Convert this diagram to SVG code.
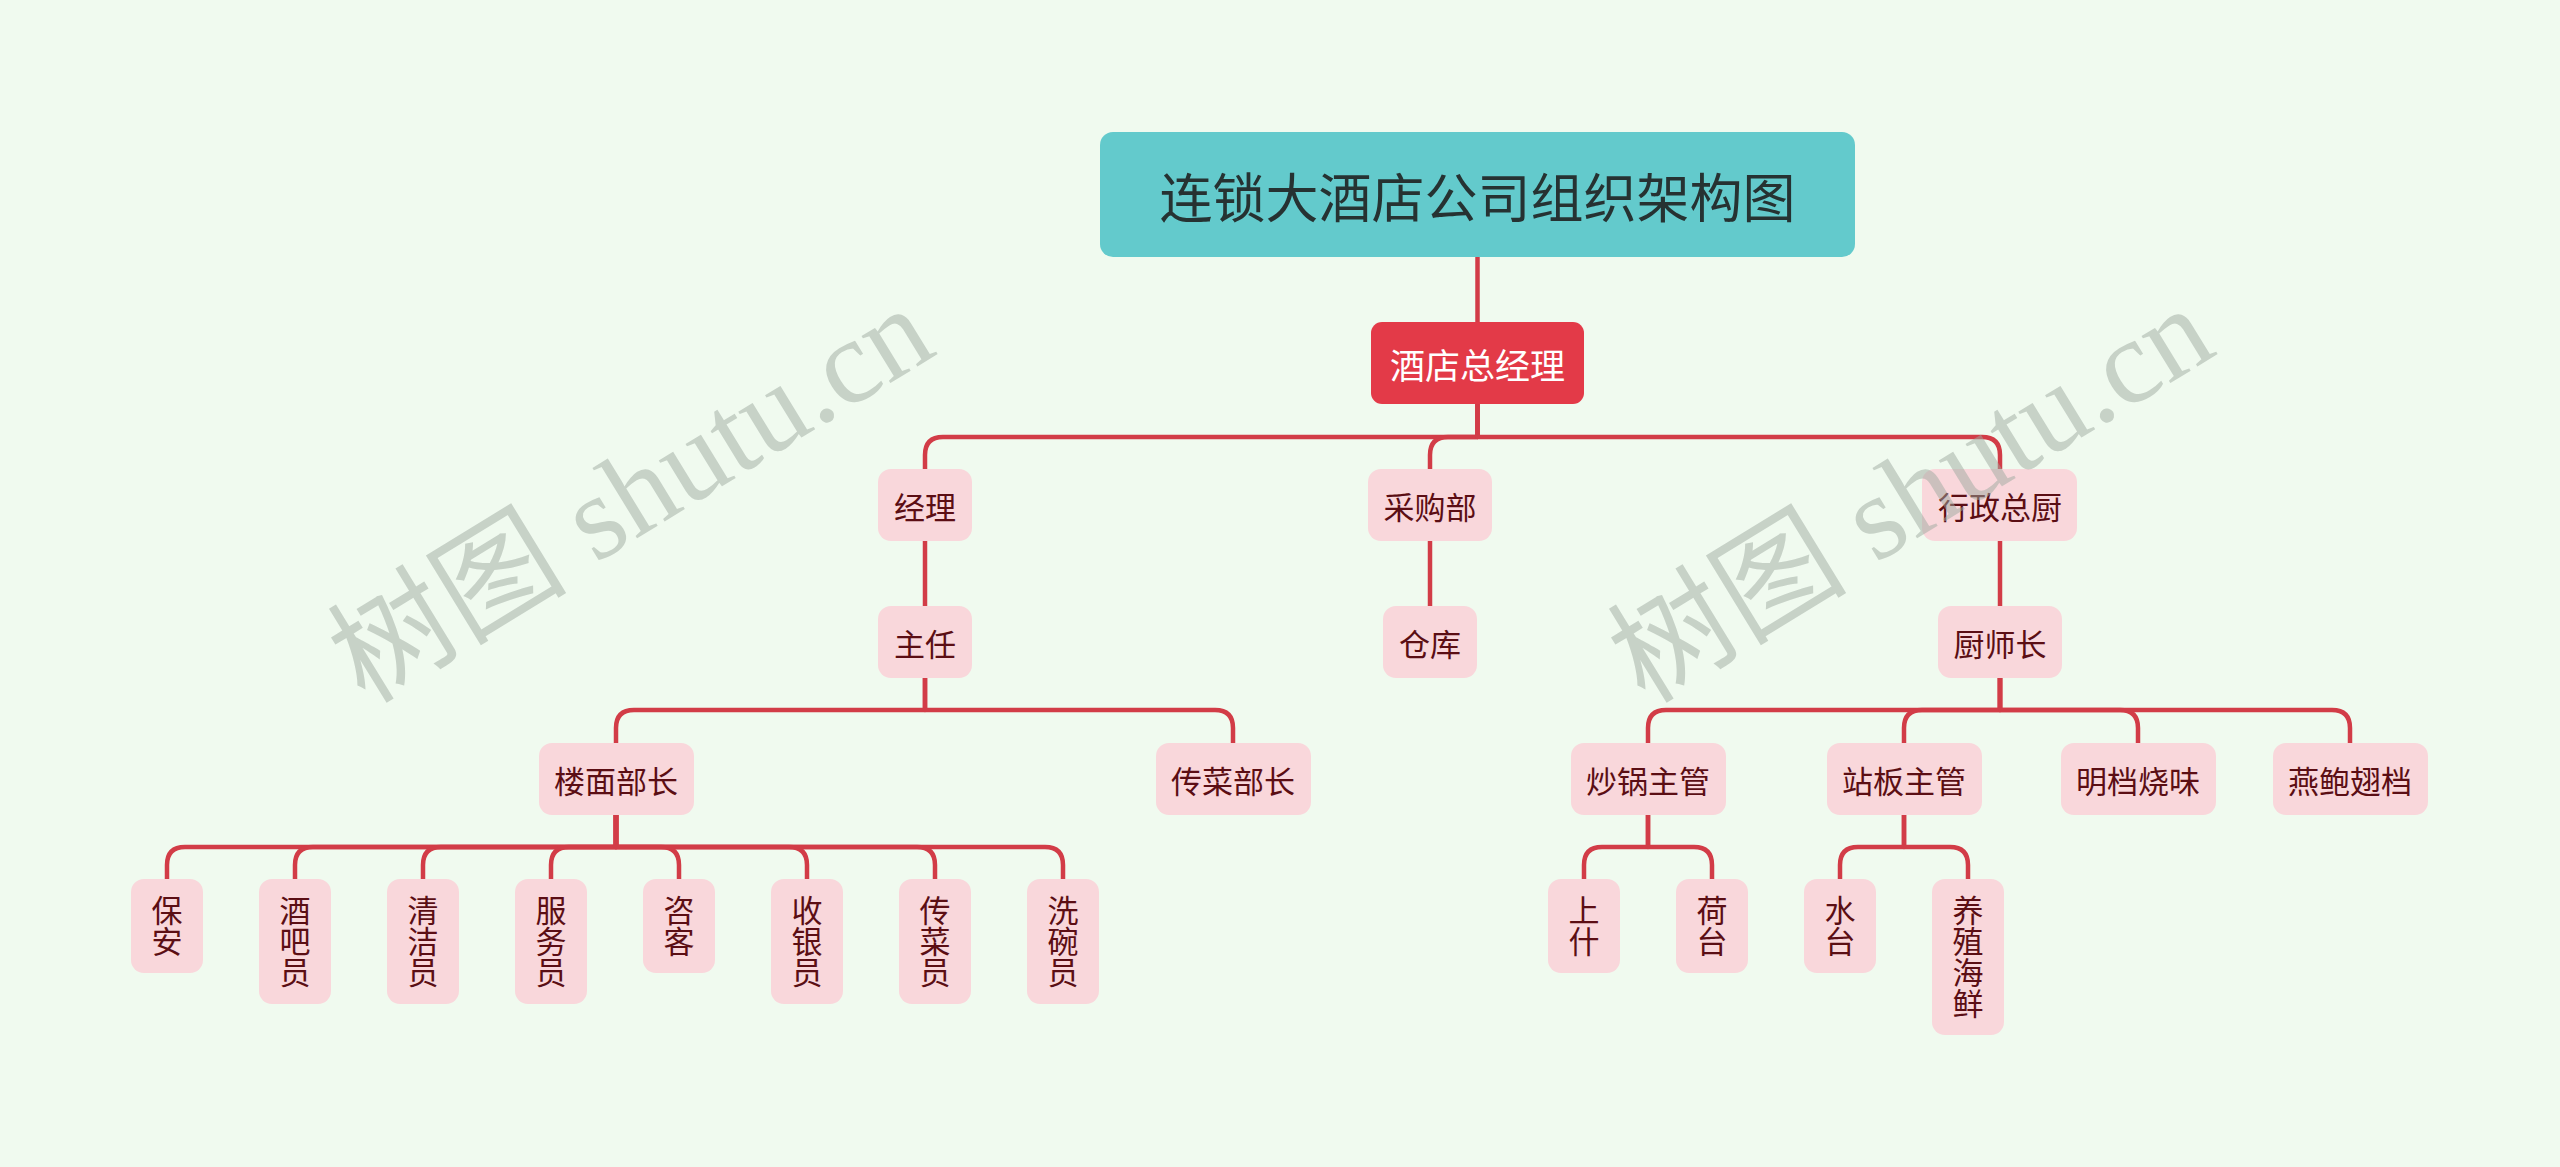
<svg xmlns="http://www.w3.org/2000/svg" width="2560" height="1167" viewBox="0 0 2560 1167">
<style>
.bg{fill:#F0FAEF}
.ln{fill:none;stroke:#D23C47;stroke-width:4.5;stroke-linejoin:round}
.pk{fill:#F9D7DB}
.t{font-family:"Noto Sans CJK SC","Noto Sans",sans-serif;font-size:31px;fill:#5B0E14;text-anchor:middle;dominant-baseline:central}
.v{font-family:"Noto Sans CJK SC","Noto Sans",sans-serif;font-size:31px;fill:#5B0E14;text-anchor:middle;writing-mode:vertical-rl;text-orientation:upright}
.root{fill:#63CACC}
.rt{font-family:"Noto Sans CJK SC","Noto Sans",sans-serif;font-size:53px;fill:#263232;text-anchor:middle;dominant-baseline:central}
.gm{fill:#E33A48}
.gt{font-family:"Noto Sans CJK SC","Noto Sans",sans-serif;font-size:35px;fill:#FFFFFF;text-anchor:middle;dominant-baseline:central}
.wm{font-family:"Liberation Serif","Noto Sans CJK SC",serif;font-size:120px;fill:#9EAA9F;fill-opacity:0.5}
</style>
<rect class="bg" x="0" y="0" width="2560" height="1167"/>
<g id="connectors">
<path class="ln" d="M1477.5 257 V322"/>
<path class="ln" d="M1477.5 404 V437 H943 Q925 437 925 455 V469"/>
<path class="ln" d="M1477.5 404 V437 H1448 Q1430 437 1430 455 V469"/>
<path class="ln" d="M1477.5 404 V437 H1982 Q2000 437 2000 455 V469"/>
<path class="ln" d="M925 541 V606"/>
<path class="ln" d="M1430 541 V606"/>
<path class="ln" d="M2000 541 V606"/>
<path class="ln" d="M925 678 V710 H634 Q616 710 616 728 V743"/>
<path class="ln" d="M925 678 V710 H1215 Q1233 710 1233 728 V743"/>
<path class="ln" d="M2000 678 V710 H1666 Q1648 710 1648 728 V743"/>
<path class="ln" d="M2000 678 V710 H1922 Q1904 710 1904 728 V743"/>
<path class="ln" d="M2000 678 V710 H2120 Q2138 710 2138 728 V743"/>
<path class="ln" d="M2000 678 V710 H2332 Q2350 710 2350 728 V743"/>
<path class="ln" d="M616 815 V847 H185 Q167 847 167 865 V879"/>
<path class="ln" d="M616 815 V847 H313 Q295 847 295 865 V879"/>
<path class="ln" d="M616 815 V847 H441 Q423 847 423 865 V879"/>
<path class="ln" d="M616 815 V847 H569 Q551 847 551 865 V879"/>
<path class="ln" d="M616 815 V847 H661 Q679 847 679 865 V879"/>
<path class="ln" d="M616 815 V847 H789 Q807 847 807 865 V879"/>
<path class="ln" d="M616 815 V847 H917 Q935 847 935 865 V879"/>
<path class="ln" d="M616 815 V847 H1045 Q1063 847 1063 865 V879"/>
<path class="ln" d="M1648 815 V847 H1602 Q1584 847 1584 865 V879"/>
<path class="ln" d="M1648 815 V847 H1694 Q1712 847 1712 865 V879"/>
<path class="ln" d="M1904 815 V847 H1858 Q1840 847 1840 865 V879"/>
<path class="ln" d="M1904 815 V847 H1950 Q1968 847 1968 865 V879"/>
</g>
<g id="n-root"><rect class="root" x="1100" y="132" width="755" height="125" rx="13"/><text class="rt" x="1477.5" y="195">连锁大酒店公司组织架构图</text></g>
<g id="n-gm"><rect class="gm" x="1371" y="322" width="213" height="82" rx="11"/><text class="gt" x="1477.5" y="363">酒店总经理</text></g>
<g id="n-jingli"><rect class="pk" x="878" y="469" width="94" height="72" rx="13"/><text class="t" x="925" y="505">经理</text></g>
<g id="n-caigou"><rect class="pk" x="1368" y="469" width="124" height="72" rx="13"/><text class="t" x="1430" y="505">采购部</text></g>
<g id="n-xingzheng"><rect class="pk" x="1922" y="469" width="155" height="72" rx="13"/><text class="t" x="2000" y="505">行政总厨</text></g>
<g id="n-zhuren"><rect class="pk" x="878" y="606" width="94" height="72" rx="13"/><text class="t" x="925" y="642">主任</text></g>
<g id="n-cangku"><rect class="pk" x="1383" y="606" width="94" height="72" rx="13"/><text class="t" x="1430" y="642">仓库</text></g>
<g id="n-chushizhang"><rect class="pk" x="1938" y="606" width="124" height="72" rx="13"/><text class="t" x="2000" y="642">厨师长</text></g>
<g id="n-loumian"><rect class="pk" x="539" y="743" width="155" height="72" rx="13"/><text class="t" x="616" y="779">楼面部长</text></g>
<g id="n-chuancai"><rect class="pk" x="1156" y="743" width="155" height="72" rx="13"/><text class="t" x="1233" y="779">传菜部长</text></g>
<g id="n-chaoguo"><rect class="pk" x="1571" y="743" width="155" height="72" rx="13"/><text class="t" x="1648" y="779">炒锅主管</text></g>
<g id="n-zhanban"><rect class="pk" x="1827" y="743" width="155" height="72" rx="13"/><text class="t" x="1904" y="779">站板主管</text></g>
<g id="n-mingdang"><rect class="pk" x="2061" y="743" width="155" height="72" rx="13"/><text class="t" x="2138" y="779">明档烧味</text></g>
<g id="n-yanbao"><rect class="pk" x="2273" y="743" width="155" height="72" rx="13"/><text class="t" x="2350" y="779">燕鲍翅档</text></g>
<g id="n-baoan"><rect class="pk" x="131" y="879" width="72" height="94" rx="13"/><text class="v" x="167" y="926">保安</text></g>
<g id="n-jiuba"><rect class="pk" x="259" y="879" width="72" height="125" rx="13"/><text class="v" x="295" y="941.5">酒吧员</text></g>
<g id="n-qingjie"><rect class="pk" x="387" y="879" width="72" height="125" rx="13"/><text class="v" x="423" y="941.5">清洁员</text></g>
<g id="n-fuwu"><rect class="pk" x="515" y="879" width="72" height="125" rx="13"/><text class="v" x="551" y="941.5">服务员</text></g>
<g id="n-zike"><rect class="pk" x="643" y="879" width="72" height="94" rx="13"/><text class="v" x="679" y="926">咨客</text></g>
<g id="n-shouyin"><rect class="pk" x="771" y="879" width="72" height="125" rx="13"/><text class="v" x="807" y="941.5">收银员</text></g>
<g id="n-chuancaiyuan"><rect class="pk" x="899" y="879" width="72" height="125" rx="13"/><text class="v" x="935" y="941.5">传菜员</text></g>
<g id="n-xiwan"><rect class="pk" x="1027" y="879" width="72" height="125" rx="13"/><text class="v" x="1063" y="941.5">洗碗员</text></g>
<g id="n-shangshi"><rect class="pk" x="1548" y="879" width="72" height="94" rx="13"/><text class="v" x="1584" y="926">上什</text></g>
<g id="n-hetai"><rect class="pk" x="1676" y="879" width="72" height="94" rx="13"/><text class="v" x="1712" y="926">荷台</text></g>
<g id="n-shuitai"><rect class="pk" x="1804" y="879" width="72" height="94" rx="13"/><text class="v" x="1840" y="926">水台</text></g>
<g id="n-yangzhi"><rect class="pk" x="1932" y="879" width="72" height="156" rx="13"/><text class="v" x="1968" y="957">养殖海鲜</text></g>
<g id="watermarks">
<text class="wm" x="365" y="705" transform="rotate(-31.5 365 705)">树图 shutu.cn</text>
<text class="wm" x="1645" y="705" transform="rotate(-31.5 1645 705)">树图 shutu.cn</text>
</g>
</svg>
